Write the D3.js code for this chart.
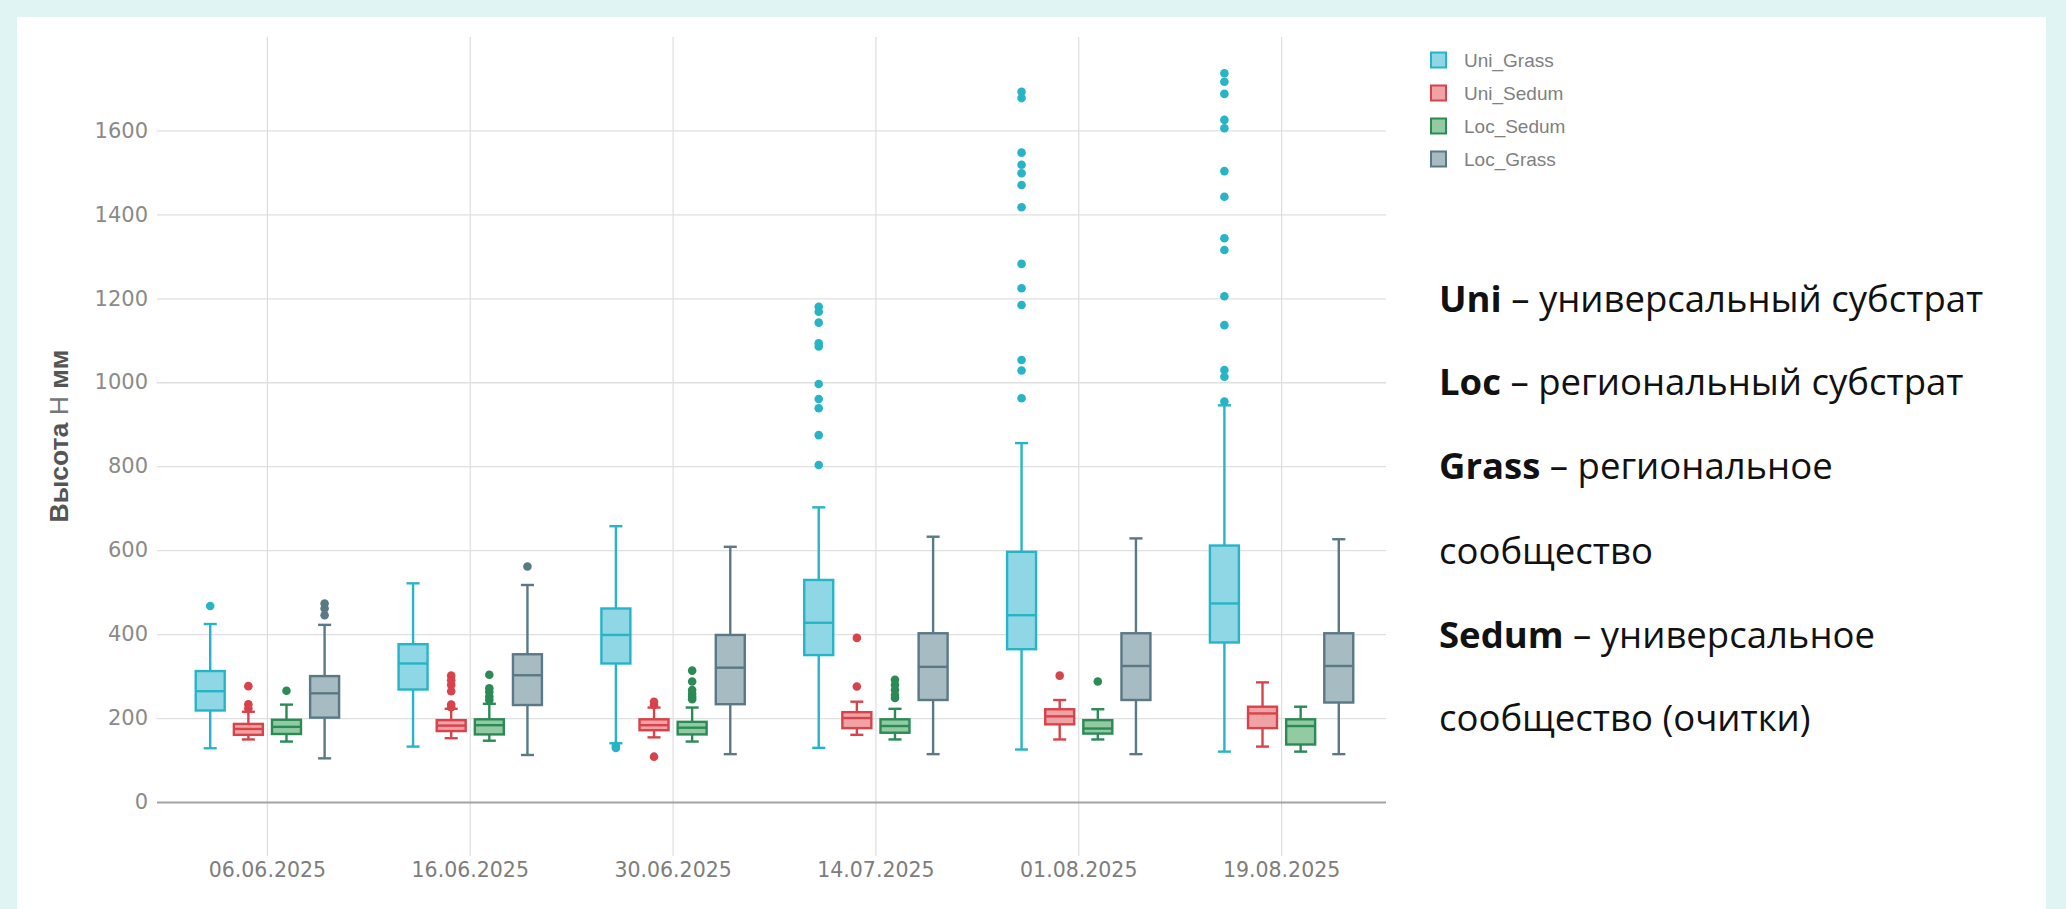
<!DOCTYPE html>
<html>
<head>
<meta charset="utf-8">
<script src="https://cdn.jsdelivr.net/npm/d3@7"></script>
<style>
  html, body { margin: 0; padding: 0; background: #dff4f3; }
  svg { display: block; }
</style>
</head>
<body>
<svg id="chart" width="2066" height="909"></svg>
<script>
// ---------- DATA ----------
const dates = ["06.06.2025", "16.06.2025", "30.06.2025", "14.07.2025", "01.08.2025", "19.08.2025"];
const seriesNames = ["Uni_Grass", "Uni_Sedum", "Loc_Sedum", "Loc_Grass"];
const yTicks = [0, 200, 400, 600, 800, 1000, 1200, 1400, 1600];

// five-number summaries per date: [low whisker, Q1, median, Q3, high whisker]
const uniGrass = [
  [128, 218, 264, 312, 424],
  [132, 268, 330, 376, 521],
  [140, 330, 398, 461, 657],
  [129, 350, 427, 529, 702],
  [125, 364, 445, 596, 855],
  [120, 380, 473, 611, 945]
];
const uniSedum = [
  [149, 160, 174, 186, 215],
  [152, 169, 182, 195, 222],
  [154, 171, 183, 197, 225],
  [160, 176, 200, 214, 239],
  [149, 185, 204, 221, 243],
  [132, 176, 211, 227, 285]
];
const locSedum = [
  [144, 162, 179, 196, 232],
  [146, 161, 183, 197, 234],
  [144, 161, 177, 191, 225],
  [149, 165, 181, 197, 222],
  [149, 163, 175, 195, 221],
  [120, 137, 181, 197, 227]
];
const locGrass = [
  [104, 201, 259, 300, 422],
  [112, 231, 302, 352, 517],
  [114, 233, 320, 398, 608],
  [114, 243, 322, 402, 632],
  [114, 243, 324, 402, 628],
  [114, 237, 324, 402, 626]
];

// outliers per date
const uniGrassOut = [
  [467],
  [],
  [134, 129],
  [803, 874, 938, 960, 996, 1085, 1093, 1142, 1168, 1180],
  [962, 1028, 1053, 1184, 1224, 1282, 1417, 1470, 1498, 1518, 1547, 1677, 1692],
  [954, 1013, 1029, 1136, 1205, 1315, 1343, 1442, 1503, 1605, 1625, 1687, 1716, 1736]
];
const uniSedumOut = [
  [223, 233, 276],
  [226, 232, 264, 279, 290, 301],
  [108, 231, 239],
  [275, 391],
  [301],
  []
];
const locSedumOut = [
  [265],
  [243, 251, 262, 271, 303],
  [245, 251, 258, 267, 287, 313],
  [248, 255, 267, 279, 291],
  [287],
  []
];
const locGrassOut = [
  [445, 461, 473],
  [561],
  [], [], [], []
];

const strokeColors = ["#27b4c7", "#d8434b", "#2b8a55", "#5a7984"];
const fillColors = ["#8fd7e4", "#f1a2a4", "#92caa2", "#a7bbc3"];

const notes = [
  ["Uni", " – универсальный субстрат"],
  ["Loc", " – региональный субстрат"],
  ["Grass", " – региональное"],
  ["", "сообщество"],
  ["Sedum", " – универсальное"],
  ["", "сообщество (очитки)"]
];

// ---------- BUILD ----------
const statsBySeries = [uniGrass, uniSedum, locSedum, locGrass];
const outBySeries = [uniGrassOut, uniSedumOut, locSedumOut, locGrassOut];

const svg = d3.select("#chart");
svg.append("rect").attr("x", 0).attr("y", 0).attr("width", 2066).attr("height", 909).attr("fill", "#dff4f3");
svg.append("rect").attr("x", 17).attr("y", 17).attr("width", 2029).attr("height", 892).attr("fill", "#ffffff");

const x0 = d3.scaleBand().domain(dates).range([166, 1383]);
const x1 = d3.scaleBand().domain(seriesNames).range([0, x0.bandwidth()]).paddingInner(0.24).paddingOuter(0.78);
const y = d3.scaleLinear().domain([0, 1600]).range([802, 130.4]);

const gridLeft = 157, gridRight = 1386;

// vertical gridlines + x labels via axis
const xAxis = svg.append("g")
  .attr("transform", "translate(0,856)")
  .call(d3.axisBottom(x0).tickSize(-819).tickPadding(6));
xAxis.select(".domain").remove();
xAxis.selectAll(".tick line").attr("stroke", "#dcdcdc").attr("stroke-width", 1.2);
xAxis.selectAll(".tick text")
  .attr("fill", "#7d7d7d")
  .style("font-family", "'DejaVu Sans', sans-serif")
  .style("font-size", "20.5px");

// horizontal gridlines + y tick labels via axis
const yAxis = svg.append("g")
  .attr("transform", `translate(${gridRight},0)`)
  .call(d3.axisLeft(y).tickValues(yTicks).tickSize(gridRight - gridLeft).tickPadding(9).tickFormat(d3.format("d")));
yAxis.select(".domain").remove();
yAxis.selectAll(".tick line")
  .attr("stroke", d => d === 0 ? "#a3a3a3" : "#e0e0e0")
  .attr("stroke-width", d => d === 0 ? 1.8 : 1.3);
yAxis.selectAll(".tick text")
  .attr("fill", "#8a8a8a")
  .style("font-family", "'DejaVu Sans', sans-serif")
  .style("font-size", "21px");

// boxes
const capW = x1.bandwidth() * 0.45;
dates.forEach((d, di) => {
  seriesNames.forEach((s, si) => {
    const st = statsBySeries[si][di];
    const cx = x0(d) + x1(s) + x1.bandwidth() / 2;
    const bw = x1.bandwidth();
    const g = svg.append("g").attr("class", "box");
    const col = strokeColors[si];
    // whiskers
    g.append("line").attr("x1", cx).attr("x2", cx).attr("y1", y(st[0])).attr("y2", y(st[1]))
      .attr("stroke", col).attr("stroke-width", 2.4);
    g.append("line").attr("x1", cx).attr("x2", cx).attr("y1", y(st[3])).attr("y2", y(st[4]))
      .attr("stroke", col).attr("stroke-width", 2.4);
    g.append("line").attr("x1", cx - capW / 2).attr("x2", cx + capW / 2).attr("y1", y(st[0])).attr("y2", y(st[0]))
      .attr("stroke", col).attr("stroke-width", 2.4);
    g.append("line").attr("x1", cx - capW / 2).attr("x2", cx + capW / 2).attr("y1", y(st[4])).attr("y2", y(st[4]))
      .attr("stroke", col).attr("stroke-width", 2.4);
    // box
    g.append("rect").attr("x", cx - bw / 2).attr("y", y(st[3])).attr("width", bw).attr("height", y(st[1]) - y(st[3]))
      .attr("fill", fillColors[si]).attr("stroke", col).attr("stroke-width", 2.4);
    // median
    g.append("line").attr("x1", cx - bw / 2).attr("x2", cx + bw / 2).attr("y1", y(st[2])).attr("y2", y(st[2]))
      .attr("stroke", col).attr("stroke-width", 2.4);
    // outliers
    g.selectAll("circle").data(outBySeries[si][di]).join("circle")
      .attr("cx", cx).attr("cy", v => y(v)).attr("r", 4.3)
      .attr("fill", col);
  });
});

// y axis title
const yt = svg.append("text")
  .attr("transform", "translate(68,436) rotate(-90)")
  .attr("text-anchor", "middle")
  .style("font-family", "'Liberation Sans', Arial, sans-serif")
  .style("font-size", "26.5px")
  .attr("fill", "#555");
yt.append("tspan").style("font-weight", "bold").text("Высота");
yt.append("tspan").style("font-weight", "normal").attr("fill", "#777").text(" Н");
yt.append("tspan").style("font-weight", "bold").text(" мм");

// legend
const legend = svg.append("g").attr("transform", "translate(1431,0)");
seriesNames.forEach((s, i) => {
  const cy = 60 + i * 33;
  legend.append("rect").attr("x", 0).attr("y", cy - 7.5).attr("width", 15).attr("height", 15)
    .attr("fill", fillColors[i]).attr("stroke", strokeColors[i]).attr("stroke-width", 2);
  legend.append("text").attr("x", 33).attr("y", cy).attr("dy", "0.35em")
    .style("font-family", "'Liberation Sans', Arial, sans-serif")
    .style("font-size", "19px")
    .attr("fill", "#808080")
    .text(s);
});

// notes
const noteY = [299, 382, 466, 551, 635, 718];
notes.forEach((n, i) => {
  const t = svg.append("text").attr("x", 1439).attr("y", noteY[i]).attr("dy", "0.35em")
    .style("font-family", "'Open Sans', sans-serif")
    .style("font-size", "36.5px")
    .attr("fill", "#111");
  if (n[0]) t.append("tspan").style("font-weight", "bold").text(n[0]);
  t.append("tspan").text(n[1]);
});
</script>
</body>
</html>
